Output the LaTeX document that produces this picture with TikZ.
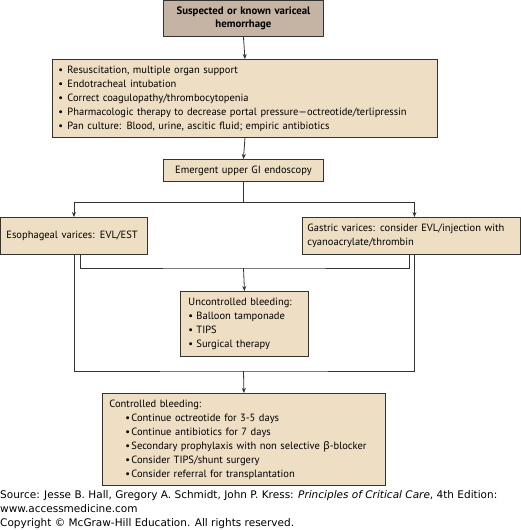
\documentclass[tikz,border=0pt]{standalone}
\usepackage{fontspec}
\setmainfont{PT Sans}
\newfontfamily\grk{Noto Sans}
\newfontfamily\srcfont{DejaVu Sans}
\usetikzlibrary{arrows.meta}
\definecolor{boxfill}{HTML}{EEDFC4}
\definecolor{topfill}{HTML}{C5B3A3}
\definecolor{edge}{HTML}{333333}
\newcommand{\bul}[1][8pt]{\makebox[#1][l]{•}}
\begin{document}
\begin{tikzpicture}[x=1pt,y=-1pt,
 box/.style={draw=edge, line width=0.9pt, fill=boxfill, anchor=north west, inner ysep=2pt, align=left, font=\fontsize{10.5}{14}\selectfont},
 arr/.style={draw=edge, line width=0.8pt, -{Stealth[length=5pt,width=4pt]}},
 ln/.style={draw=edge, line width=0.8pt},
 src/.style={anchor=base west, inner sep=0pt, font=\srcfont\fontsize{10.5}{12}\selectfont}]
\useasboundingbox (0,0) rectangle (520,530);
\node[box, fill=topfill, align=center, font=\bfseries\fontsize{10.8}{13.5}\selectfont, minimum width=160pt, minimum height=36pt, text width=150pt, inner xsep=5pt] (top) at (163,0) {Suspected or known variceal\\hemorrhage};
\node[box, minimum width=385pt, minimum height=78pt, inner xsep=6pt, text width=373pt] (init) at (52,59)
 {\bul[9pt]Resuscitation, multiple organ support\\
  \bul[9pt]Endotracheal intubation\\
  \bul[9pt]Correct coagulopathy/thrombocytopenia\\
  \bul[9pt]Pharmacologic therapy to decrease portal pressure—octreotide/terlipressin\\
  \bul[9pt]Pan culture: Blood, urine, ascitic fluid; empiric antibiotics};
\node[box, align=center, minimum width=160pt, minimum height=22pt, inner xsep=5pt, text width=150pt] (endo) at (163,159) {Emergent upper GI endoscopy};
\node[box, minimum width=147pt, minimum height=37pt, inner xsep=6pt, text width=135pt] (eso) at (0,217) {Esophageal varices: EVL/EST};
\node[box, minimum width=218pt, minimum height=37pt, inner xsep=5pt, text width=208pt] (gas) at (302,217) {Gastric varices: consider EVL/injection with\\cyanoacrylate/thrombin};
\node[box, minimum width=128pt, minimum height=65pt, inner xsep=8pt, text width=112pt] (unc) at (180,291)
 {Uncontrolled bleeding:\\
  \bul Balloon tamponade\\
  \bul TIPS\\
  \bul Surgical therapy};
\node[box, minimum width=283pt, minimum height=92pt, inner xsep=7pt, text width=269pt] (ctrl) at (102,393)
 {Controlled bleeding:\\
  \hspace*{16pt}\bul[6pt]Continue octreotide for 3-5 days\\
  \hspace*{16pt}\bul[6pt]Continue antibiotics for 7 days\\
  \hspace*{16pt}\bul[6pt]Secondary prophylaxis with non selective {\grk β}-blocker\\
  \hspace*{16pt}\bul[6pt]Consider TIPS/shunt surgery\\
  \hspace*{16pt}\bul[6pt]Consider referral for transplantation};
\coordinate (j1) at (243.5,202);
\coordinate (j2) at (243.5,268);
\coordinate (j3) at (243.5,371);
\draw[arr] (top.south) -- (init.north);
\draw[arr] (init.south) -- (endo.north);
\draw[ln] (endo.south) -- (j1);
\draw[arr] (j1) -| (eso.north);
\draw[arr] (j1) -| ([xshift=3pt]gas.north);
\draw[ln] ([xshift=6.5pt]eso.south) |- (j2) -| ([xshift=-2.5pt]gas.south);
\draw[arr] (j2) -- (unc.north);
\draw[ln] (eso.south) |- (j3) -| ([xshift=2.5pt]gas.south);
\draw[arr] (j3) -- (ctrl.north);
\node[src] (s1) at (0,498) {Source: Jesse B. Hall, Gregory A. Schmidt, John P. Kress: \textit{Principles of Critical Care}, 4th Edition:};
\node[src] (s2) at (0,512) {www.accessmedicine.com};
\node[src] (s3) at (0,526) {Copyright © McGraw-Hill Education. All rights reserved.};
\end{tikzpicture}
\end{document}
